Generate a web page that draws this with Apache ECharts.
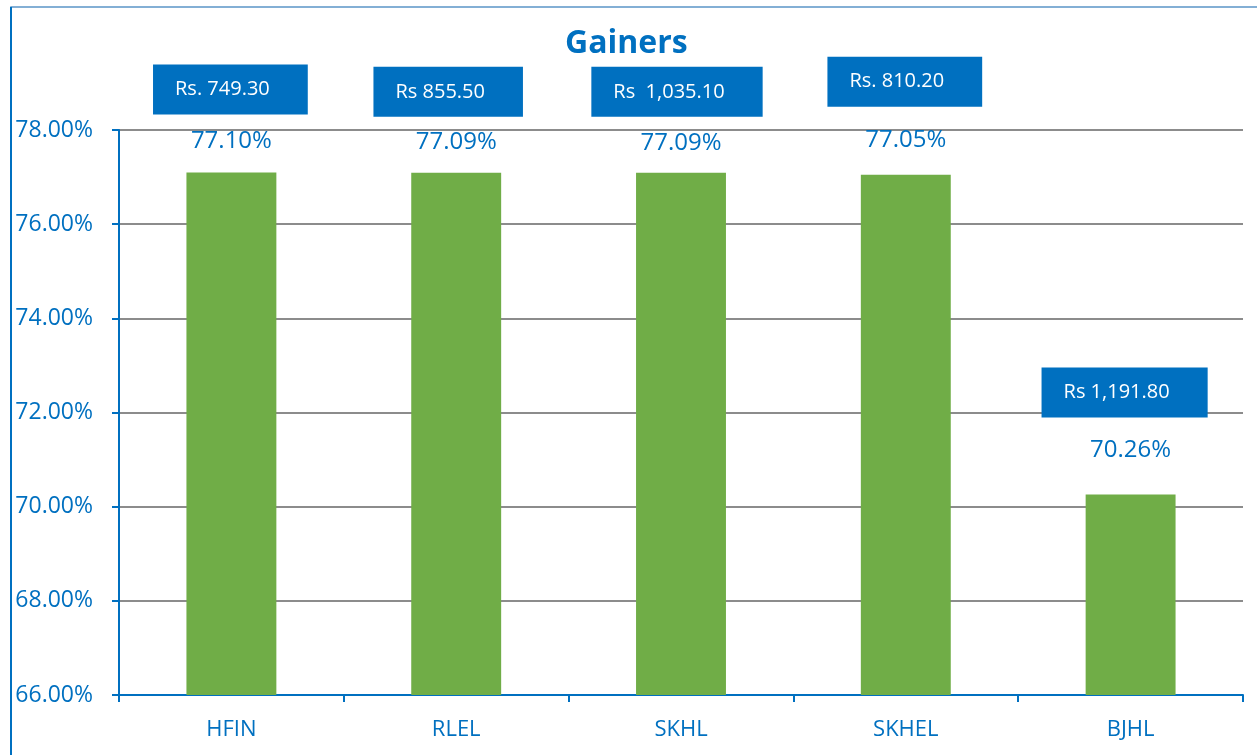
<!DOCTYPE html>
<html>
<head>
<meta charset="utf-8">
<title>Gainers</title>
<script src="https://cdn.jsdelivr.net/npm/echarts@6/dist/echarts.min.js"></script>
<style>
    html, body { margin: 0; padding: 0; background: #fff; }
    #myChart { width: 1257px; height: 755px; }
</style>
</head>
<body>
<div id="myChart"></div>
<script>
// chart data
var symbols = ['HFIN', 'RLEL', 'SKHL', 'SKHEL', 'BJHL'];
var gainPct = [77.10, 77.09, 77.09, 77.05, 70.26];
var prices = ['Rs. 749.30', 'Rs 855.50', 'Rs  1,035.10', 'Rs. 810.20', 'Rs 1,191.80'];
var yTicks = { min: 66, max: 78, step: 2 };

// label placement tweaks (the source chart had hand placed labels)
var pctLift = [19, 19, 18, 23, 32];
var boxLift = [58, 56, 56, 68, 77];
var boxShift = [-1, -8, -4, -1, -6];

var blue = '#0070C0';
var font = 'Open Sans';

var pctData = [];
var boxData = [];
for (var i = 0; i < gainPct.length; i++) {
    pctData.push({
        value: gainPct[i],
        label: { distance: pctLift[i] }
    });
    boxData.push({
        value: gainPct[i],
        label: { distance: boxLift[i], offset: [boxShift[i], 0], formatter: prices[i] }
    });
}

var myChart = echarts.init(document.getElementById('myChart'));
var option = {
    animation: false,
    title: {
        text: 'Gainers',
        left: 560,
        top: 23,
        textStyle: {
            color: blue,
            fontFamily: font,
            fontWeight: 'bold',
            fontSize: 32
        }
    },
    graphic: [
        { // chart frame, left and top edges
            type: 'polyline',
            shape: { points: [[11, 755], [11, 7], [1257, 7]] },
            style: { stroke: '#5B95C8', lineWidth: 1.5, fill: null },
            z: -1
        },
        {
            type: 'line',
            shape: { x1: 11, y1: 7, x2: 11, y2: 755 },
            style: { stroke: blue, lineWidth: 2 },
            z: -1
        }
    ],
    grid: {
        left: 119,
        right: 14,
        top: 130,
        bottom: 60
    },
    xAxis: {
        type: 'category',
        data: symbols,
        axisLine: { lineStyle: { color: blue, width: 2 } },
        axisTick: { show: true, length: 7, lineStyle: { color: blue, width: 2 } },
        axisLabel: {
            color: blue,
            fontFamily: font,
            fontSize: 22,
            margin: 24
        }
    },
    yAxis: {
        type: 'value',
        min: yTicks.min,
        max: yTicks.max,
        interval: yTicks.step,
        axisLine: { show: true, lineStyle: { color: blue, width: 2 } },
        axisTick: { show: true, length: 7, lineStyle: { color: blue, width: 2 } },
        axisLabel: {
            color: blue,
            fontFamily: font,
            fontSize: 23,
            margin: 26,
            formatter: function (v) { return v.toFixed(2) + '%'; }
        },
        splitLine: { lineStyle: { color: '#8C8C8C', width: 2 } }
    },
    series: [
        {
            name: 'gain',
            type: 'bar',
            data: pctData,
            barWidth: '40%',
            itemStyle: { color: '#70AD47' },
            label: {
                show: true,
                position: 'top',
                color: blue,
                fontFamily: font,
                fontSize: 24,
                formatter: function (p) { return p.value.toFixed(2) + '%'; }
            }
        },
        {
            name: 'price',
            type: 'bar',
            data: boxData,
            barWidth: '40%',
            barGap: '-100%',
            itemStyle: { color: 'rgba(0,0,0,0)' },
            silent: true,
            z: 5,
            label: {
                show: true,
                position: 'top',
                color: '#fff',
                fontFamily: font,
                fontSize: 20,
                backgroundColor: blue,
                padding: [15, 38, 15, 22]
            }
        }
    ]
};
myChart.setOption(option);
</script>
</body>
</html>
